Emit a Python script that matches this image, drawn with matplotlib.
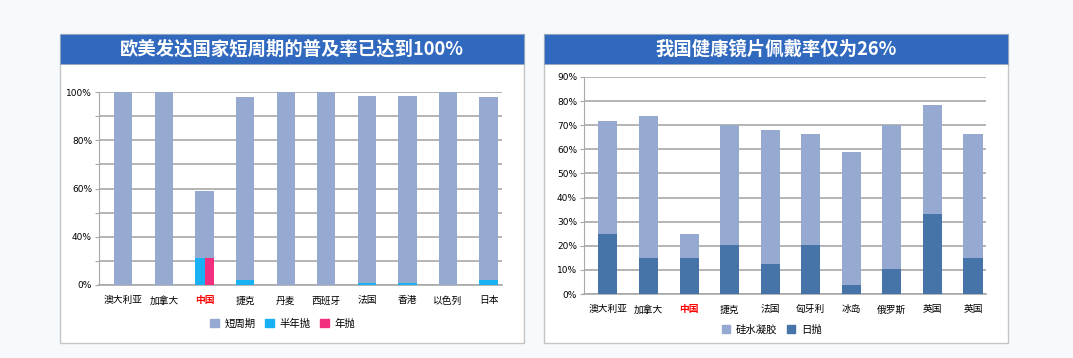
import numpy as np
import matplotlib
matplotlib.use("Agg")
import matplotlib.pyplot as plt
from matplotlib.patches import Rectangle, Patch

plt.rcParams['font.family'] = ['Noto Sans CJK SC', 'DejaVu Sans']

# ---------------- data ----------------
left_title = "欧美发达国家短周期的普及率已达到100%"
left_countries = ["澳大利亚", "加拿大", "中国", "捷克", "丹麦", "西班牙", "法国", "香港", "以色列", "日本"]
left_short = [100, 100, 37, 94, 100, 100, 96.5, 96.5, 100, 94]   # 短周期
left_half = [0, 0, 22, 4, 0, 0, 2, 2, 0, 4]                       # 半年抛
left_year = [0, 0, 22, 0, 0, 0, 0, 0, 0, 0]                       # 年抛
left_series = ["短周期", "半年抛", "年抛"]
left_ticks = [0, 40, 60, 80, 100]
left_grid = [0, 20, 40, 50, 60, 70, 80, 90, 100]

right_title = "我国健康镜片佩戴率仅为26%"
right_countries = ["澳大利亚", "加拿大", "中国", "捷克", "法国", "匈牙利", "冰岛", "俄罗斯", "英国", "英国"]
right_daily = [24.8, 15.0, 15.0, 20.2, 12.5, 20.2, 3.6, 10.5, 33.1, 15.0]      # 日抛
right_total = [71.6, 74.0, 24.8, 70.1, 68.1, 66.2, 58.7, 70.1, 78.4, 66.2]
right_silicone = list(np.array(right_total) - np.array(right_daily))             # 硅水凝胶
right_series = ["硅水凝胶", "日抛"]
right_ticks = list(range(0, 91, 10))

highlight = "中国"

# ---------------- style ----------------
W, H = 1073, 358
C_SHORT = "#95a9d1"
C_HALF = "#18b1f4"
C_YEAR = "#f22e7f"
C_DARK = "#4674a9"
C_HEAD = "#3169be"
C_GRID = "#b4b4b4"

fig = plt.figure(figsize=(W / 100, H / 100), dpi=100)
fig.patch.set_facecolor("#f7fafd")


def fx(x):
    return x / W


def fy(y):
    return 1 - y / H


def panel(x0, x1, y0, y1, hy, title):
    fig.patches.append(Rectangle((fx(x0), fy(y1)), fx(x1 - x0), (y1 - y0) / H,
                                 transform=fig.transFigure, facecolor="white",
                                 edgecolor="#c4c4c4", lw=1.0, zorder=-2))
    fig.patches.append(Rectangle((fx(x0), fy(hy)), fx(x1 - x0), (hy - y0) / H,
                                 transform=fig.transFigure, facecolor=C_HEAD,
                                 edgecolor="#9aa8c0", lw=0.6, zorder=-1))
    fig.text(fx((x0 + x1) / 2), fy((y0 + hy) / 2), title, color="white",
             fontsize=13.2, fontweight="bold", ha="center", va="center")


panel(60, 524, 34, 343, 64, left_title)
panel(544, 1008, 34, 343, 64, right_title)


def style_axes(ax, countries, xpad):
    ax.set_zorder(3)
    ax.patch.set_alpha(0)
    for s in ["top", "right"]:
        ax.spines[s].set_visible(False)
    ax.spines["left"].set_color("#a8a8a8")
    ax.spines["bottom"].set_color("#a8a8a8")
    ax.spines["bottom"].set_linewidth(1.2)
    ax.set_xticks(np.arange(len(countries)))
    ax.set_xticklabels(countries, fontsize=7)
    ax.tick_params(axis="x", length=0, pad=xpad)
    ax.tick_params(axis="y", length=3, width=0.8, color="#a8a8a8", labelsize=6.5, pad=2)
    for lab in ax.get_yticklabels():
        lab.set_family("DejaVu Sans")
    for lab in ax.get_xticklabels():
        if lab.get_text() == highlight:
            lab.set_color("red")
            lab.set_fontweight("bold")
    ax.set_axisbelow(True)


# ---------------- left chart ----------------
def fwd(v):
    v = np.asarray(v, dtype=float)
    return np.where(v < 40, 20 + v / 2, v)


def inv(u):
    u = np.asarray(u, dtype=float)
    return np.where(u < 40, (u - 20) * 2, u)


axL = fig.add_axes([fx(99), fy(285), fx(502 - 99), (285 - 92) / H])
axL.set_yscale("function", functions=(fwd, inv))
xl = np.arange(len(left_countries))
wl = 0.45
for i in range(len(left_countries)):
    if left_year[i] > 0:
        axL.bar(xl[i] - wl / 4, left_half[i], wl / 2, color=C_HALF, zorder=3)
        axL.bar(xl[i] + wl / 4, left_year[i], wl / 2, color=C_YEAR, zorder=3)
    elif left_half[i] > 0:
        axL.bar(xl[i], left_half[i], wl, color=C_HALF, zorder=3)
base = np.maximum(left_half, left_year)
axL.bar(xl, left_short, wl, bottom=base, color=C_SHORT, zorder=3)
axL.set_ylim(0, 100)
axL.set_xlim(-0.6, len(left_countries) - 0.67)
axL.set_yticks(left_grid)
axL.set_yticklabels([f"{t}%" if t in left_ticks else "" for t in left_grid])
axL.yaxis.grid(True, color=C_GRID, lw=1.4)
style_axes(axL, left_countries, 7.5)

handlesL = [Patch(color=c) for c in (C_SHORT, C_HALF, C_YEAR)]
fig.legend(handlesL, left_series, loc="center", bbox_to_anchor=(fx(283), fy(324)),
           ncol=3, frameon=False, fontsize=7.5, handlelength=0.8, handleheight=0.8,
           handletextpad=0.6, columnspacing=0.9)

# ---------------- right chart ----------------
axR = fig.add_axes([fx(584), fy(294), fx(986 - 584), (294 - 77) / H])
xr = np.arange(len(right_countries))
wr = 0.47
axR.bar(xr, right_daily, wr, color=C_DARK, zorder=3)
axR.bar(xr, right_silicone, wr, bottom=right_daily, color=C_SHORT, zorder=3)
axR.set_ylim(0, 90)
axR.set_xlim(-0.59, len(right_countries) - 0.68)
axR.set_yticks(right_ticks)
axR.set_yticklabels([f"{t}%" for t in right_ticks])
axR.yaxis.grid(True, color=C_GRID, lw=1.4)
style_axes(axR, right_countries, 7.5)

handlesR = [Patch(color=c) for c in (C_SHORT, C_DARK)]
fig.legend(handlesR, right_series, loc="center", bbox_to_anchor=(fx(772), fy(330)),
           ncol=2, frameon=False, fontsize=7.5, handlelength=0.8, handleheight=0.8,
           handletextpad=0.6, columnspacing=0.9)

fig.savefig("out.png", dpi=100, facecolor=fig.get_facecolor())
